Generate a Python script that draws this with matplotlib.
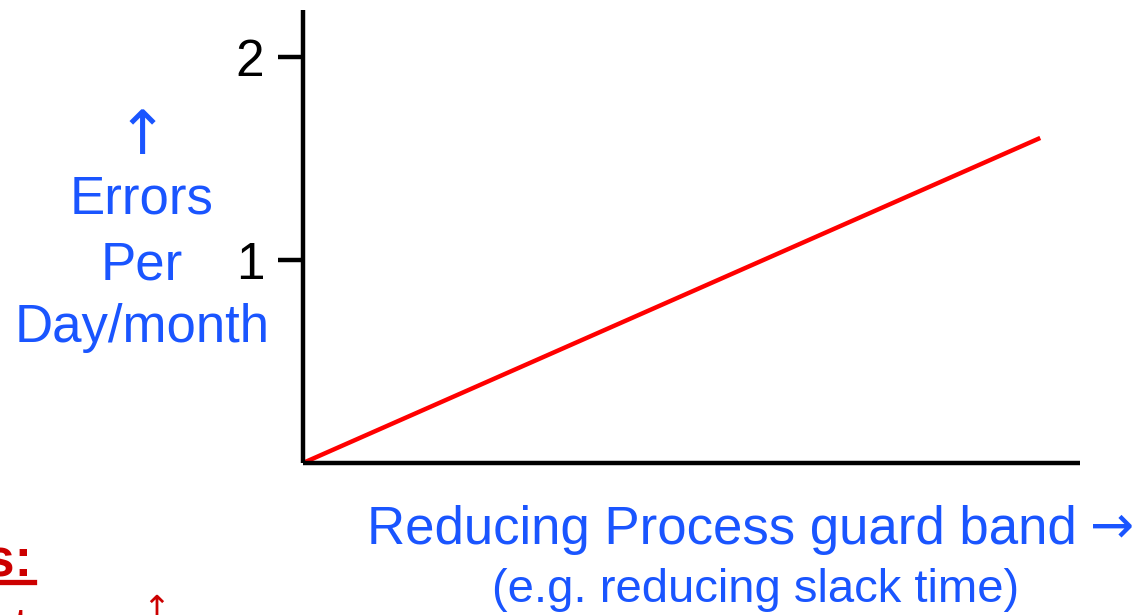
import matplotlib
matplotlib.use('Agg')
import matplotlib.pyplot as plt
from matplotlib.lines import Line2D

# data
guard_band = [0, 10]
errors = [0, 1.6]
yticks = [1, 2]
ytick_labels = ['1', '2']

BLUE = '#1a55ff'
RED = '#ff0000'
DARKRED = '#cc0000'
FONT = ['Liberation Sans', 'DejaVu Sans']

plt.rcParams['font.family'] = FONT

fig = plt.figure(figsize=(11.44, 6.15), dpi=100)
ax = fig.add_axes([0.2649, 0.2472, 0.6792, 0.7366])

ax.plot(guard_band, errors, color=RED, lw=3.2, solid_capstyle='butt', clip_on=False)

ax.set_xlim(0, 10.54)
ax.set_ylim(0, 2.23)
ax.set_yticks(yticks)
ax.set_yticklabels(ytick_labels)
ax.set_xticks([])
ax.tick_params(axis='y', length=18, width=3.2, pad=10, labelsize=37, direction='out')
for s in ['top', 'right']:
    ax.spines[s].set_visible(False)
for s in ['left', 'bottom']:
    ax.spines[s].set_linewidth(3.2)
    ax.spines[s].set_capstyle('butt')

# y label, stacked lines
fig.text(142 / 1144, 1 - 138 / 615, '\u2191', color=BLUE, fontsize=44,
         ha='center', va='center', family=['DejaVu Sans'])
for txt, ypx in [('Errors', 200), ('Per', 265), ('Day/month', 328)]:
    fig.text(142 / 1144, 1 - ypx / 615, txt, color=BLUE, fontsize=38,
             ha='center', va='center')

# x label
fig.text(722 / 1144, 1 - 530 / 615, 'Reducing Process guard band', color=BLUE,
         fontsize=38, ha='center', va='center')
fig.text(1112 / 1144, 1 - 527 / 615, '\u2192', color=BLUE, fontsize=38,
         ha='center', va='center', family=['DejaVu Sans'])
fig.text(756 / 1144, 1 - 590 / 615, '(e.g. reducing slack time)', color=BLUE,
         fontsize=34, ha='center', va='center')

# cut-off slide text, bottom left
fig.text(33 / 1144, 1 - 575 / 615, 'Effects:', color=DARKRED, fontsize=38,
         fontweight='bold', ha='right', va='baseline')
fig.add_artist(Line2D([0, 34 / 1144], [1 - 582 / 615] * 2, color=DARKRED, lw=3.8))
fig.text(140 / 1144, 1 - 645 / 615, 'Latency', color=DARKRED, fontsize=38,
         ha='right', va='baseline')
fig.text(156 / 1144, 1 - 593 / 615, '\u2191', color=DARKRED, fontsize=24,
         ha='center', va='top', family=['DejaVu Sans'])

fig.savefig('out.png', dpi=100)
